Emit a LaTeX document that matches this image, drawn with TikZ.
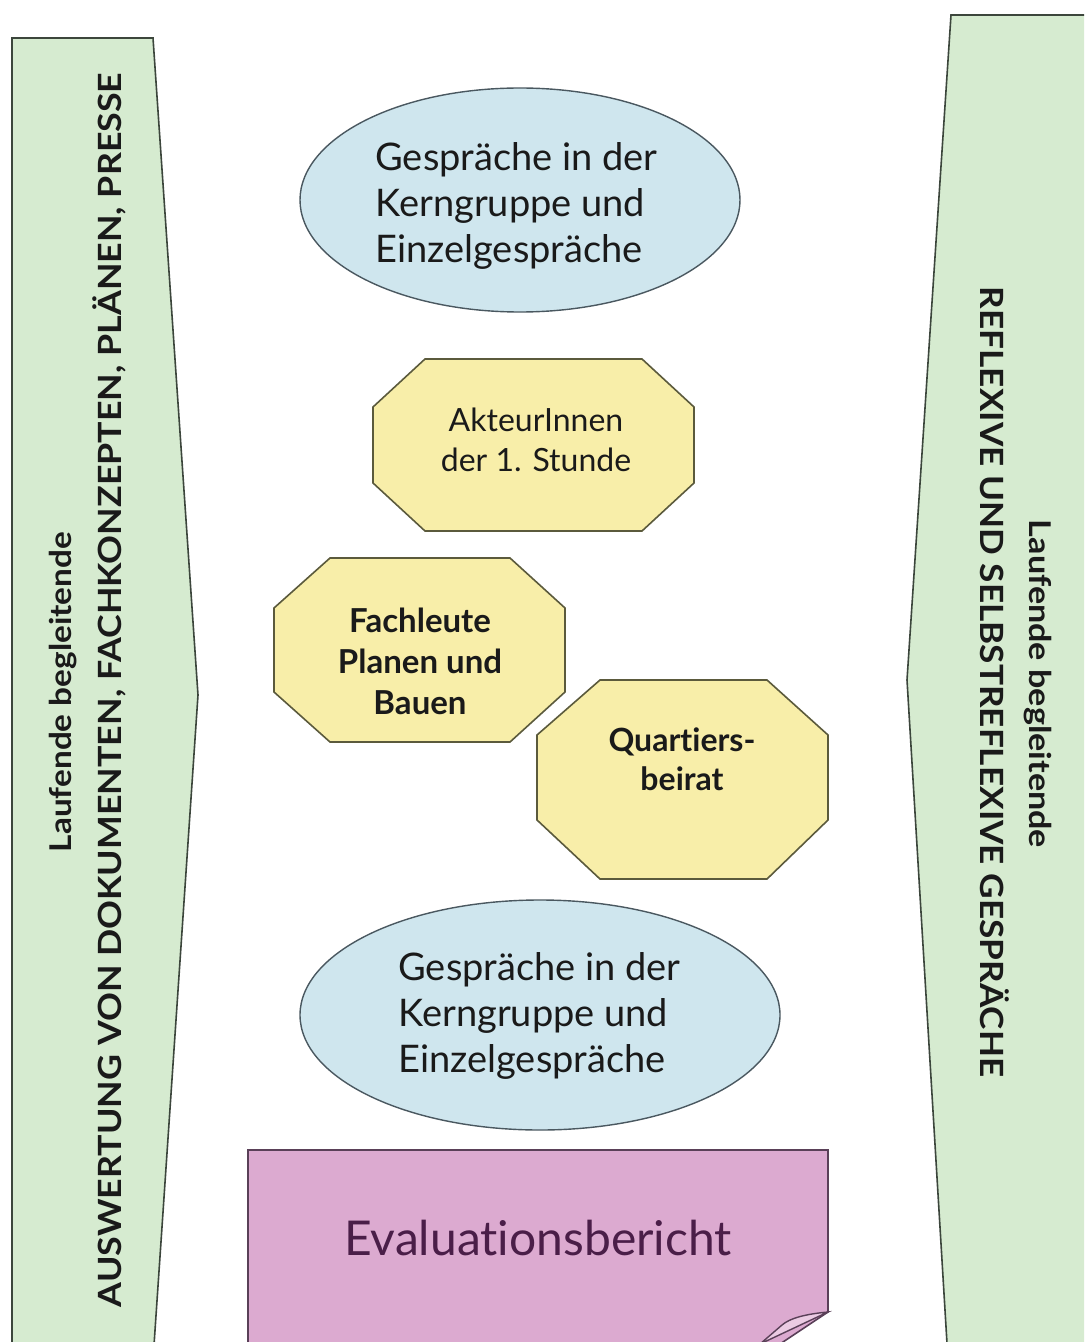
\documentclass[tikz,border=0pt]{standalone}
\usepackage{fontspec}
\setmainfont{Lato}[Ligatures=NoCommon]
\usepackage{graphicx}
\usetikzlibrary{shapes.geometric}
\definecolor{bargreen}{HTML}{D6EBD0}
\definecolor{barline}{HTML}{3C463C}
\definecolor{ellblue}{HTML}{CFE6EE}
\definecolor{ellline}{HTML}{4A5860}
\definecolor{octyellow}{HTML}{F8EEA9}
\definecolor{octline}{HTML}{5B5A3C}
\definecolor{boxpink}{HTML}{DCAAD0}
\definecolor{boxline}{HTML}{5A4058}
\definecolor{foldpink}{HTML}{EBCBE3}
\definecolor{evtext}{HTML}{4A1E48}
\definecolor{inktext}{HTML}{1A1A1A}
\begin{document}
\begin{tikzpicture}[x=0.5pt,y=-0.5pt,
  barshape/.style={draw=barline, line width=0.8pt, fill=bargreen},
  bigcaps/.style={inner sep=0pt, text=inktext, font=\fontsize{16}{19}\selectfont\bfseries},
  smallbar/.style={inner sep=0pt, text=inktext, font=\fontsize{15}{18}\selectfont\bfseries},
  ellshape/.style={ellipse, draw=ellline, line width=0.7pt, fill=ellblue, inner sep=0pt},
  elltext/.style={inner sep=0pt, align=left, text=inktext, font=\fontsize{19}{23}\selectfont},
  octshape/.style={draw=octline, line width=0.8pt, fill=octyellow},
  octtext/.style={inner sep=0pt, align=center, text=inktext},
  boxshape/.style={draw=boxline, line width=0.8pt, fill=boxpink},
  foldshape/.style={draw=boxline, line width=0.7pt, fill=foldpink}
]
\useasboundingbox (0,0) rectangle (1084,1342);
\clip (0,0) rectangle (1084,1342);
\fill[white] (0,0) rectangle (1084,1342);

% left bar
\draw[barshape] (12,1360) -- (12,38) -- (153,38) -- (198,695) -- (153,1360) -- cycle;
\node[smallbar, rotate=90, anchor=base] (lsmall) at (71,692)
  {\resizebox{160pt}{\height}{Laufende begleitende}};
\node[bigcaps, rotate=90, anchor=base] (lbig) at (121,690)
  {\resizebox{617pt}{\height}{AUSWERTUNG VON DOKUMENTEN, FACHKONZEPTEN, PLÄNEN, PRESSE}};

% right bar
\draw[barshape] (1100,15) -- (951,15) -- (907,680) -- (948,1360) -- (1100,1360) -- cycle;
\node[smallbar, rotate=-90, anchor=base] (rsmall) at (1029,684)
  {\resizebox{164pt}{\height}{Laufende begleitende}};
\node[bigcaps, rotate=-90, anchor=base] (rbig) at (980,682)
  {\resizebox{395pt}{\height}{REFLEXIVE UND SELBSTREFLEXIVE GESPRÄCHE}};

% top ellipse
\node[ellshape, minimum width=220pt, minimum height=112pt] (e1) at (520,200) {};
\node[elltext, anchor=west] (e1t) at (375,206)
  {Gespräche in der\\Kerngruppe und\\Einzelgespräche};

% octagons
\draw[octshape] (425,359) -- (642,359) -- (694,407) -- (694,483) -- (642,531)
  -- (425,531) -- (373,483) -- (373,407) -- cycle;
\node[octtext, font=\fontsize{16}{20}\selectfont] (o1) at (536,440)
  {AkteurInnen\\der 1. Stunde};

\draw[octshape] (330,558) -- (510,558) -- (565,608) -- (565,692) -- (510,742)
  -- (330,742) -- (274,692) -- (274,608) -- cycle;
\node[octtext, font=\fontsize{16.5}{20.5}\selectfont\bfseries] (o2) at (420,661)
  {Fachleute\\Planen und\\Bauen};

\draw[octshape] (600,680) -- (767,680) -- (828,735) -- (828,820) -- (767,879)
  -- (600,879) -- (537,820) -- (537,735) -- cycle;
\node[octtext, font=\fontsize{16}{19.5}\selectfont\bfseries] (o3) at (682,759)
  {Quartiers-\\beirat};

% bottom ellipse
\node[ellshape, minimum width=240pt, minimum height=115pt] (e2) at (540,1015) {};
\node[elltext, anchor=west] (e2t) at (398,1016)
  {Gespräche in der\\Kerngruppe und\\Einzelgespräche};

% evaluation box
\draw[boxshape] (248,1360) -- (248,1150) -- (828,1150) -- (828,1312) -- (756,1360) -- cycle;
\draw[foldshape] (828,1312) .. controls (806,1314) and (790,1318) .. (782,1325)
  -- (760,1344) -- cycle;
\node[inner sep=0pt, text=evtext, font=\fontsize{24}{28}\selectfont] (ev) at (538,1238)
  {Evaluationsbericht};
\end{tikzpicture}
\end{document}
